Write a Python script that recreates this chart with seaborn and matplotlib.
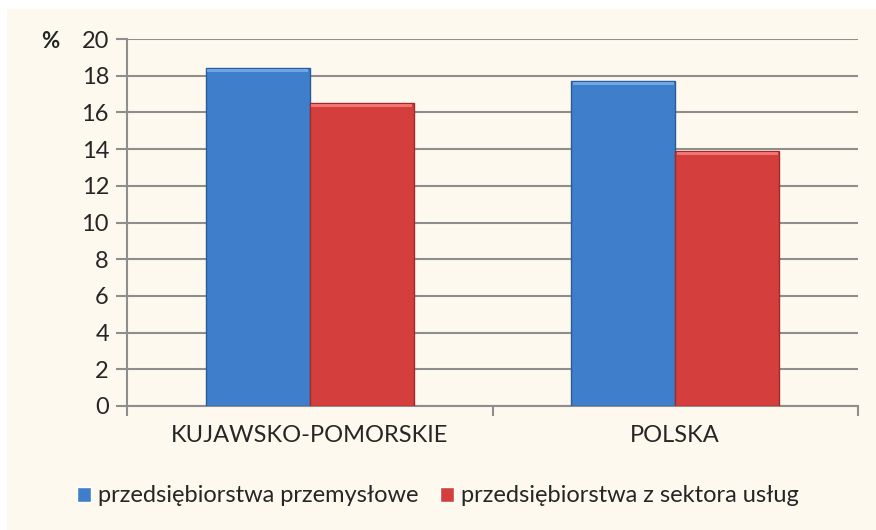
import pandas as pd
import matplotlib.pyplot as plt
import seaborn as sns
from matplotlib.patches import Rectangle

# data
regions = ['KUJAWSKO-POMORSKIE', 'POLSKA']
series = ['przedsiębiorstwa przemysłowe', 'przedsiębiorstwa z sektora usług']
industry = [18.4, 17.7]
services = [16.5, 13.9]

df = pd.DataFrame({
    'region': regions * 2,
    'typ': [series[0]] * 2 + [series[1]] * 2,
    'value': industry + services,
})

sns.set_style('white')
plt.rcParams['font.family'] = ['Lato', 'DejaVu Sans']

fig = plt.figure(figsize=(8.76, 5.30), dpi=100)
fig.patch.set_facecolor('white')
fig.patches.append(Rectangle((7 / 876, 0), 1, 1 - 9 / 530, transform=fig.transFigure,
                             facecolor='#FDF9EF', edgecolor='none', zorder=-10))

ax = fig.add_axes([127 / 876, 1 - 406 / 530, (858 - 127) / 876, (406 - 39) / 530])
ax.set_facecolor('none')

palette = {series[0]: '#3E7ECB', series[1]: '#D43E3C'}
sns.barplot(data=df, x='region', y='value', hue='typ', palette=palette,
            width=0.57, gap=0, saturation=1, ax=ax, legend=True)

edge = {series[0]: '#2B5C99', series[1]: '#9E2B2A'}
light = {series[0]: '#6FA6E6', series[1]: '#F07472'}
for cont, name in zip(ax.containers, series):
    for bar in cont:
        bar.set_edgecolor(edge[name])
        bar.set_linewidth(1.0)
        bar.set_zorder(3)
        # thin highlight along the top, like the bevelled bars of the original
        x0, w, h = bar.get_x(), bar.get_width(), bar.get_height()
        ax.add_patch(Rectangle((x0 + 0.004, h - 0.22), w - 0.008, 0.18,
                               facecolor=light[name], edgecolor='none', zorder=4))

ax.set_ylim(0, 20)
ax.set_xlim(-0.5, 1.5)
ax.set_yticks(range(0, 21, 2))
ax.yaxis.grid(True, color='#8E8E8E', linewidth=1.5)
ax.set_axisbelow(True)
ax.set_xlabel('')
ax.set_ylabel('')

for s in ['top', 'right']:
    ax.spines[s].set_visible(False)
for s in ['left', 'bottom']:
    ax.spines[s].set_color('#8E8E8E')
    ax.spines[s].set_linewidth(1.5)

ax.tick_params(axis='y', length=8, width=1.5, color='#8E8E8E', labelsize=17, pad=5, left=True)
ax.tick_params(axis='x', length=0, labelsize=17, pad=14)
# ticks between categories
ax.set_xticks([-0.5, 0.5, 1.5], minor=True)
ax.tick_params(axis='x', which='minor', length=7, width=1.5, color='#8E8E8E', bottom=True)

fig.text(50 / 876, 1 - 42 / 530, '%', fontsize=16, fontweight='bold', ha='center', va='center')

handles, labels = ax.get_legend_handles_labels()
ax.legend_.remove()
fig.legend(handles, labels, loc='center', bbox_to_anchor=(0.5, 1 - 496 / 530), ncol=2,
           frameon=False, fontsize=17, handlelength=0.6, handleheight=0.6,
           handletextpad=0.3, columnspacing=0.9)

fig.savefig('out.png', dpi=100, facecolor=fig.get_facecolor())
